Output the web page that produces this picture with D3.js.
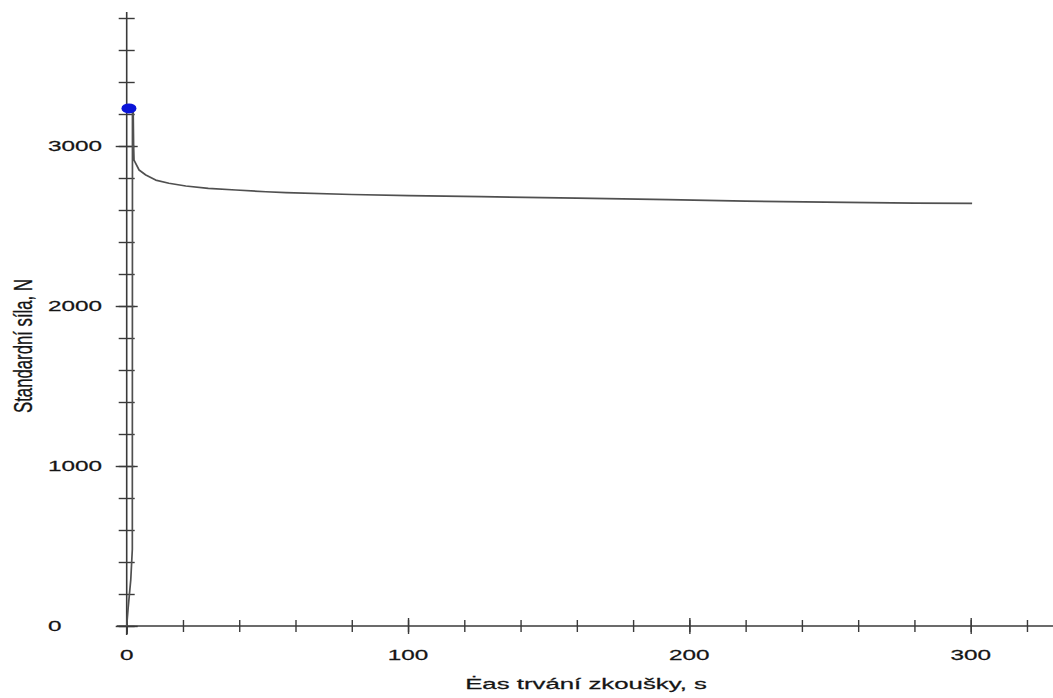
<!DOCTYPE html>
<html>
<head>
<meta charset="utf-8">
<script src="https://cdn.jsdelivr.net/npm/d3@7"></script>
<style>
  html, body { margin: 0; padding: 0; background: #fff; }
  svg { display: block; }
  text { font-family: "Liberation Sans", Arial, sans-serif; fill: #151515; }
</style>
</head>
<body>
<svg id="chart" width="1053" height="698"></svg>
<script>
// ---- data ----
const timeS  = [0, 0.5, 1.45, 2.0, 2.05, 2.3, 2.45, 2.6, 4.4, 6.8, 10.3, 15, 21, 29, 38.8, 49.5, 56.6, 80, 100.4, 126, 160, 192.5, 220, 255.9, 280, 300.5];
const forceN = [0, 110, 290, 480, 3230, 3230, 3010, 2912, 2850, 2819, 2787, 2767, 2750, 2735, 2725, 2714, 2708, 2697, 2690, 2683, 2674, 2665, 2655, 2648, 2643, 2641];
const peakT = [0.8];
const peakN = [3235];
const yTickLabels = [0, 1000, 2000, 3000];
const xTickLabels = [0, 100, 200, 300];
const yMinorTicks = d3.range(0, 3801, 200);
const xMinorTicks = d3.range(0, 321, 20);
const xTitle = "Ėas trvání zkoušky, s";
const yTitle = "Standardní síla, N";

// ---- layout ----
const svg = d3.select("#chart");
const x = d3.scaleLinear().domain([0, 300]).range([126.7, 970.7]);
const y = d3.scaleLinear().domain([0, 3000]).range([626, 146]);
const SX = 1.62; // horizontal stretch of glyphs in the reference

const axisColor = "#3a3a3a";

// Y axis: crossing ticks via left + right axes
const yAxisG = svg.append("g").attr("transform", `translate(${x(0)},0)`);
yAxisG.append("g").call(d3.axisLeft(y).tickValues(yMinorTicks).tickSize(8).tickFormat(""));
yAxisG.append("g").call(d3.axisRight(y).tickValues(yMinorTicks).tickSize(8).tickFormat(""));
yAxisG.append("g").call(d3.axisLeft(y).tickValues(yTickLabels).tickSize(11).tickFormat(""));
yAxisG.append("g").call(d3.axisRight(y).tickValues(yTickLabels).tickSize(11).tickFormat(""));

// X axis
const xAxisG = svg.append("g").attr("transform", `translate(0,${y(0)})`);
xAxisG.append("g").call(d3.axisBottom(x).tickValues(xMinorTicks).tickSize(6).tickFormat(""));
xAxisG.append("g").call(d3.axisTop(x).tickValues(xMinorTicks).tickSize(6).tickFormat(""));
xAxisG.append("g").call(d3.axisBottom(x).tickValues(xTickLabels).tickSize(8).tickFormat(""));
xAxisG.append("g").call(d3.axisTop(x).tickValues(xTickLabels).tickSize(8).tickFormat(""));

svg.selectAll(".domain").remove();
svg.selectAll(".tick line").attr("stroke", axisColor).attr("stroke-width", 1.4);

// axis lines
svg.append("line").attr("x1", x(0)).attr("x2", x(0)).attr("y1", 12).attr("y2", y(0) + 9)
  .attr("stroke", axisColor).attr("stroke-width", 1.6);
svg.append("line").attr("x1", x(0) - 10).attr("x2", 1053).attr("y1", y(0)).attr("y2", y(0))
  .attr("stroke", axisColor).attr("stroke-width", 1.6);

// Y tick labels (left-aligned)
svg.selectAll(".ylab").data(yTickLabels).enter().append("text")
  .attr("class", "ylab")
  .attr("transform", d => `translate(48,${y(d) + 5.3}) scale(${SX},1)`)
  .attr("text-anchor", "start")
  .style("font-size", "15px")
  .style("stroke", "#151515").style("stroke-width", 0.25)
  .text(d => d);

// X tick labels
svg.selectAll(".xlab").data(xTickLabels).enter().append("text")
  .attr("class", "xlab")
  .attr("transform", d => `translate(${x(d)},${660}) scale(${SX},1)`)
  .attr("text-anchor", "middle")
  .style("font-size", "15px")
  .style("stroke", "#151515").style("stroke-width", 0.25)
  .text(d => d);

// Axis titles
svg.append("text")
  .attr("transform", `translate(586,689) scale(1.72,1)`)
  .attr("text-anchor", "middle")
  .style("font-size", "15px")
  .style("stroke", "#151515").style("stroke-width", 0.25)
  .text(xTitle);

svg.append("text")
  .attr("transform", `translate(32,346) scale(${SX},1) rotate(-90)`)
  .attr("text-anchor", "middle")
  .style("font-size", "16px")
  .style("stroke", "#151515").style("stroke-width", 0.2)
  .attr("textLength", 134)
  .attr("lengthAdjust", "spacingAndGlyphs")
  .text(yTitle);

// Curve
const pts = timeS.map((t, i) => [t, forceN[i]]);
const line = d3.line().x(d => x(d[0])).y(d => y(d[1]));
svg.append("path").datum(pts)
  .attr("d", line)
  .attr("fill", "none")
  .attr("stroke", "#505050")
  .attr("stroke-width", 1.7)
  .attr("stroke-linejoin", "round");

// Peak marker
svg.selectAll(".peak").data(peakT.map((t, i) => [t, peakN[i]])).enter().append("ellipse")
  .attr("class", "peak")
  .attr("cx", d => x(d[0])).attr("cy", d => y(d[1]))
  .attr("rx", 7.5).attr("ry", 5)
  .attr("fill", "#0a14d8");
</script>
</body>
</html>
